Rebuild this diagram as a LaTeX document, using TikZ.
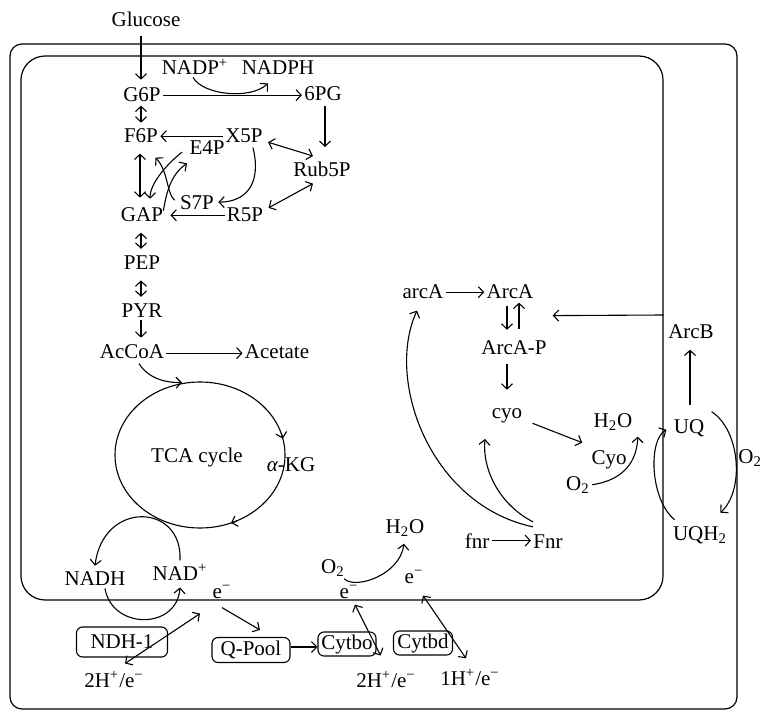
\documentclass[tikz,border=0pt]{standalone}
\usepackage{fontspec}
\setmainfont{Liberation Serif}
\usetikzlibrary{arrows.meta,calc,shapes.geometric}
\newcommand\myel{e\textsuperscript{−}}
\begin{document}
\begin{tikzpicture}[x=0.5pt,y=-0.5pt,
  font=\fontsize{10.5}{12}\selectfont,
  lbl/.style={inner sep=1pt, anchor=base},
  pbox/.style={draw, rounded corners=3pt, inner sep=1pt, line width=0.55pt},
  arr/.style={line width=0.55pt, -{Straight Barb[length=2.6pt,width=5.5pt]}},
  dbl/.style={line width=0.55pt, {Straight Barb[length=2.6pt,width=5.5pt]}-{Straight Barb[length=2.6pt,width=5.5pt]}},
  wall/.style={draw, inner sep=0pt, line width=0.6pt}]
\clip (0,0) rectangle (760,711);
% membranes
\node[wall, rounded corners=6pt, minimum width=363.5pt, minimum height=332.5pt] (env) at (373.5,376.5) {};
\node[wall, rounded corners=12pt, minimum width=321pt, minimum height=272pt] (cell) at (342,328) {};
\node[draw, ellipse, inner sep=0pt, line width=0.55pt, minimum width=85pt, minimum height=73pt] (cyc) at (200,455) {};
% labels
\node[lbl] (glu) at (146,27) {Glucose};
\node[lbl] (nadp) at (195,75) {NADP\textsuperscript{+}};
\node[lbl] (nadph) at (278,75) {NADPH};
\node[lbl] (g6p) at (142,102) {G6P};
\node[lbl] (pg6) at (323,101) {6PG};
\node[lbl] (f6p) at (141,143) {F6P};
\node[lbl] (x5p) at (244,143) {X5P};
\node[lbl] (e4p) at (207,155) {E4P};
\node[lbl] (rub) at (322,177) {Rub5P};
\node[lbl] (s7p) at (197,210) {S7P};
\node[lbl] (gap) at (142,222) {GAP};
\node[lbl] (r5p) at (245,222) {R5P};
\node[lbl] (pep) at (142,270) {PEP};
\node[lbl] (pyr) at (142,317) {PYR};
\node[lbl] (accoa) at (132,358) {AcCoA};
\node[lbl] (acet) at (277,358) {Acetate};
\node[lbl] (tca) at (197,462) {TCA cycle};
\node[lbl] (akg) at (291,471) {{\itshape α}-KG};
\node[lbl] (nadh) at (95,585) {NADH};
\node[lbl] (nadp2) at (180,580) {NAD\textsuperscript{+}};
\node[lbl] (ea) at (222,598) {\myel};
\node[pbox, minimum width=45.5pt, minimum height=15pt] (ndh) at (122,642) {NDH-1};
\node[pbox, minimum width=39pt, minimum height=12.5pt] (qp) at (251,650) {Q-Pool};
\node[pbox, minimum width=29pt, minimum height=12pt] (cbo) at (347,644) {Cytbo};
\node[pbox, minimum width=29.5pt, minimum height=12pt] (cbd) at (423,643) {Cytbd};
\node[lbl] (ha) at (114,687) {2H\textsuperscript{+}/\myel};
\node[lbl] (hb) at (386,687) {2H\textsuperscript{+}/\myel};
\node[lbl] (hc) at (470,685) {1H\textsuperscript{+}/\myel};
\node[lbl] (o2b) at (333,573) {O\textsubscript{2}};
\node[lbl] (eb) at (349,598) {\myel};
\node[lbl] (h2ob) at (405,533) {H\textsubscript{2}O};
\node[lbl] (ec) at (414,583) {\myel};
\node[lbl] (fnr) at (477,548) {fnr};
\node[lbl] (Fnr) at (548,548) {Fnr};
\node[lbl] (arca) at (423,299) {arcA};
\node[lbl] (ArcA) at (510,299) {ArcA};
\node[lbl] (arcap) at (514,354) {ArcA-P};
\node[lbl] (cyo) at (507,418) {cyo};
\node[lbl] (h2or) at (613,427) {H\textsubscript{2}O};
\node[lbl] (Cyo) at (609,464) {Cyo};
\node[lbl] (o2r) at (578,490) {O\textsubscript{2}};
\node[lbl] (uq) at (689,433) {UQ};
\node[lbl] (arcb) at (691,338) {ArcB};
\node[lbl] (uqh) at (700,540) {UQH\textsubscript{2}};
\node[lbl, anchor=base west, inner sep=0pt] (o2f) at (738,463) {O\textsubscript{2}};
% glycolysis / PPP
\draw[arr] ($(glu.south)+(-5,6)$) -- ($(g6p.north)+(-1,-6)$);
\draw[arr] (g6p.east) -- (g6p.east -| pg6.west);
\draw[arr] ($(nadp.south)+(-2,0)$) .. controls (203,95) and (250,100) .. ($(nadph.south)+(-10,6)$);
\draw[dbl] ($(g6p.south)+(-1,1)$) -- ($(f6p.north)+(0,-4)$);
\draw[arr] (x5p.west) -- (x5p.west -| f6p.east);
\draw[arr] ($(pg6.south)+(2,2)$) -- ($(rub.north)+(3,-13)$);
\draw[dbl] ($(x5p.east)+(3,6)$) -- ($(rub.north)+(-9,-4)$);
\draw[dbl] ($(r5p.north east)+(3,2)$) -- ($(rub.south)+(-9,4)$);
\draw[arr] (r5p.west) -- ($(gap.east |- r5p.west)+(5,0)$);
\draw[arr] ($(x5p.south)+(9,2)$) .. controls (262,185) and (245,202) .. ($(s7p.east)+(2,-1)$);
\draw[dbl] ($(f6p.south)+(-1,8)$) -- ($(gap.north)+(-2,-8)$);
\draw[arr] ($(s7p.west)+(-3,-3)$) .. controls (167,195) and (168,170) .. ($(f6p.south east)+(-5,12)$);
\draw[arr] ($(e4p.west)+(-5,4)$) .. controls (168,163) and (150,183) .. ($(gap.north)+(8,-7)$);
\draw[arr] ($(gap.north east)+(-2,5)$) .. controls (166,195) and (170,175) .. ($(e4p.south)+(-20,6)$);
\draw[dbl] ($(gap.south)+(-1,8)$) -- ($(pep.north)+(-1,-5)$);
\draw[dbl] ($(pep.south)+(-1,8)$) -- ($(pyr.north)+(-1,-4)$);
\draw[arr] ($(pyr.south)+(-1,1)$) -- ($(pyr.south |- accoa.north)+(-1,-4)$);
\draw[arr] ($(accoa.east)+(0,2)$) -- ($(accoa.east -| acet.west)+(0,2)$);
\draw[arr] ($(accoa.south)+(7,3)$) .. controls (148,378) and (165,383) .. ($(cyc.north)+(-18,1)$);
% TCA arrows
\draw[arr] ($(cyc.center)+(81.3,-22.2)$) -- ($(cyc.center)+(82.8,-16.4)$);
\draw[arr] ($(cyc.center)+(36.7,66.1)$) -- ($(cyc.center)+(31,68)$);
% NADH loop
\draw[arr] ($(nadp2.north)+(0,-1)$) .. controls (183,503) and (103,500) .. ($(nadh.north)+(0,-3)$);
\draw[arr] ($(nadh.south)+(10,1)$) .. controls (112,630) and (177,630) .. ($(nadp2.south)+(0,5)$);
% respiratory chain
\draw[dbl] ($(ndh.south)+(3,6)$) -- ($(ea.south)+(-22,13)$);
\draw[arr] ($(ea.south)+(0,7)$) -- ($(qp.north)+(9,-7)$);
\draw[arr] ($(qp.east)+(0,-3)$) -- ($(qp.east -| cbo.west)+(0,-3)$);
\draw[dbl] ($(eb.south)+(6,4)$) -- ($(cbo.south east)+(4,-1)$);
\draw[dbl] ($(ec.south)+(9,10)$) -- ($(hc.north)+(-4,-8)$);
\draw[arr] ($(o2b.south east)+(-3,0)$) .. controls (355,590) and (400,575) .. ($(h2ob.south)+(-1,5)$);
% regulation
\draw[arr] (fnr.east) -- (fnr.east -| Fnr.west);
\draw[arr] ($(Fnr.north west)+(2,-5)$) .. controls (430,505) and (385,380) .. ($(arca.south)+(-6,9)$);
\draw[arr] ($(Fnr.north west)+(2,-10)$) .. controls (500,505) and (482,470) .. ($(cyo.south)+(-22,14)$);
\draw[arr] (arca.east) -- (arca.east -| ArcA.west);
\draw[arr] ($(ArcA.south)+(-3,4)$) -- ($(arcap.north)+(-7,-8)$);
\draw[arr] ($(arcap.north)+(5,-9)$) -- ($(ArcA.south)+(9,1)$);
\draw[arr] ($(cell.east)+(0,-13)$) -- ($(ArcA.south east)+(17,14)$);
\draw[arr] ($(arcap.south)+(-7,7)$) -- ($(cyo.north)+(0,-16)$);
\draw[arr] ($(cyo.east)+(8,8)$) -- ($(h2or.south west)+(-9,10)$);
\draw[arr] (o2r.east) .. controls (625,480) and (637,460) .. ($(h2or.south east)+(3,4)$);
\draw[arr] ($(uq.north)+(1,-12)$) -- ($(arcb.south)+(-1,9)$);
\draw[arr] ($(uqh.north west)+(4,-4)$) .. controls (650,500) and (648,440) .. ($(uq.west)+(-5,2)$);
\draw[arr] ($(uq.north east)+(5,-5)$) .. controls (740,430) and (745,490) .. ($(uqh.north east)+(-9,-11)$);
\end{tikzpicture}
\end{document}
